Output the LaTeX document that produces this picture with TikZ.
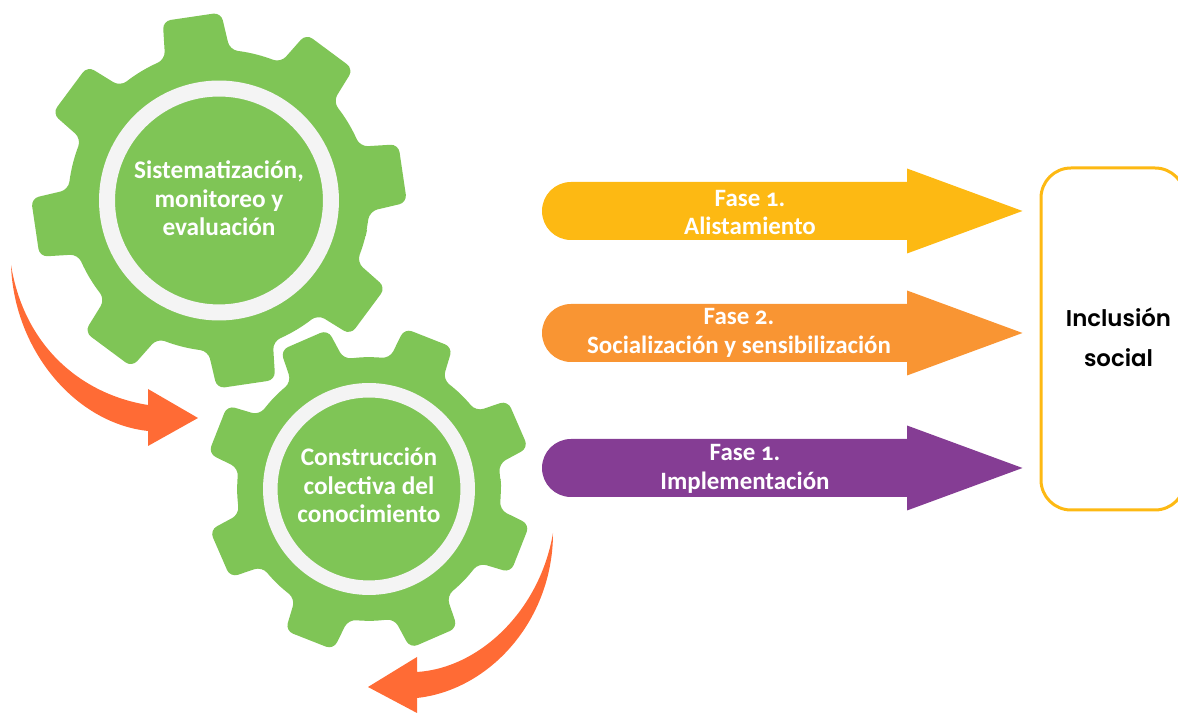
\documentclass[tikz,border=0pt]{standalone}
\usepackage{fontspec}
\usepackage{xcolor}
\setmainfont{Carlito}[Numbers=OldStyle]
\newfontfamily\titlefont{Poppins SemiBold}
\usetikzlibrary{positioning}

\definecolor{gearcolor}{HTML}{7FC556}
\definecolor{ringcolor}{HTML}{F4F4F4}
\definecolor{curvecolor}{HTML}{FF6B35}
\definecolor{amber}{HTML}{FDB913}
\definecolor{tangerine}{HTML}{F99533}
\definecolor{plum}{HTML}{853D94}

\tikzset{
    gearfill/.style={fill=gearcolor, rounded corners=4.5pt},
    gearhub/.style={circle, draw=ringcolor, inner sep=0pt},
    gearlabel/.style={align=center, text=white, font=\fontsize{14.4}{16.3}\selectfont\bfseries},
    phasetext/.style={align=center, text=white, font=\fontsize{14.2}{16.4}\selectfont\bfseries},
    curvearrow/.style={fill=curvecolor}
}

% center, scale, angle of first tooth
\newcommand{\gearbody}[3]{
    \begin{scope}[shift={(#1)}, scale=#2, rotate=#3]
        \fill[gearfill] (-22.5:151)
            \foreach \t in {0,45,...,315} {
                -- (\t-12.5:151) -- (\t-9:188) -- (\t+9:188) -- (\t+12.5:151) -- (\t+19:151) -- (\t+26:151)
            } -- cycle;
    \end{scope}
}

% center height, colour
\newcommand{\phasearrow}[2]{
    \fill[#2] (571,#1+29) -- (907,#1+29) -- (907,#1+42.5) -- (1022.5,#1) -- (907,#1-42.5) -- (907,#1-29) -- (571,#1-29)
        arc[start angle=270, end angle=90, radius=29] -- cycle;
}

\begin{document}
\begin{tikzpicture}[x=0.02cm, y=0.02cm]
    \useasboundingbox (0,0) rectangle (1178,713);

    \gearbody{219,512.5}{1}{8.4}
    \gearbody{369,224}{0.875}{23.5}

    \node[gearhub, minimum size=4.48cm, line width=0.32cm] (sistemaring) at (219,512.5) {};
    \node[gearhub, minimum size=3.95cm, line width=0.29cm] (construccionring) at (369,224) {};

    \node[gearlabel] (sistema) at (219,514.5) {Sistematización,\\monitoreo y\\evaluación};
    \node[gearlabel] (construccion) at (369,227.5) {Construcción\\colectiva del\\conocimiento};

    % curved arrows
    \fill[curvearrow] (11,448) .. controls (14,363) and (75,290) .. (148,282) -- (148,267) -- (198,295) -- (148,324) -- (148,308) .. controls (85,318) and (25,363) .. (11,448) -- cycle;
    \fill[curvearrow] (553,180) .. controls (553,93) and (490,23) .. (417,15) -- (417,0) -- (368,26) -- (417,56) -- (417,41) .. controls (480,45) and (540,103) .. (553,180) -- cycle;

    % phases
    \phasearrow{502}{amber}
    \phasearrow{380}{tangerine}
    \phasearrow{245}{plum}

    \node[phasetext] (faseuno) at (750,500.5) {Fase 1.\\Alistamiento};
    \node[phasetext] (fasedos) at (739,380.5) {Fase 2.\\Socialización y sensibilización};
    \node[phasetext] (fasetres) at (745,244) {Fase 1.\\Implementación};

    \draw[amber, line width=3*0.02cm, rounded corners=0.6cm] (1041,203) rectangle (1185,545);
    \node[align=center, font=\titlefont\fontsize{13}{22.7}\selectfont] (inclusion) at (1118.5,376) {Inclusión\\social};
\end{tikzpicture}
\end{document}
